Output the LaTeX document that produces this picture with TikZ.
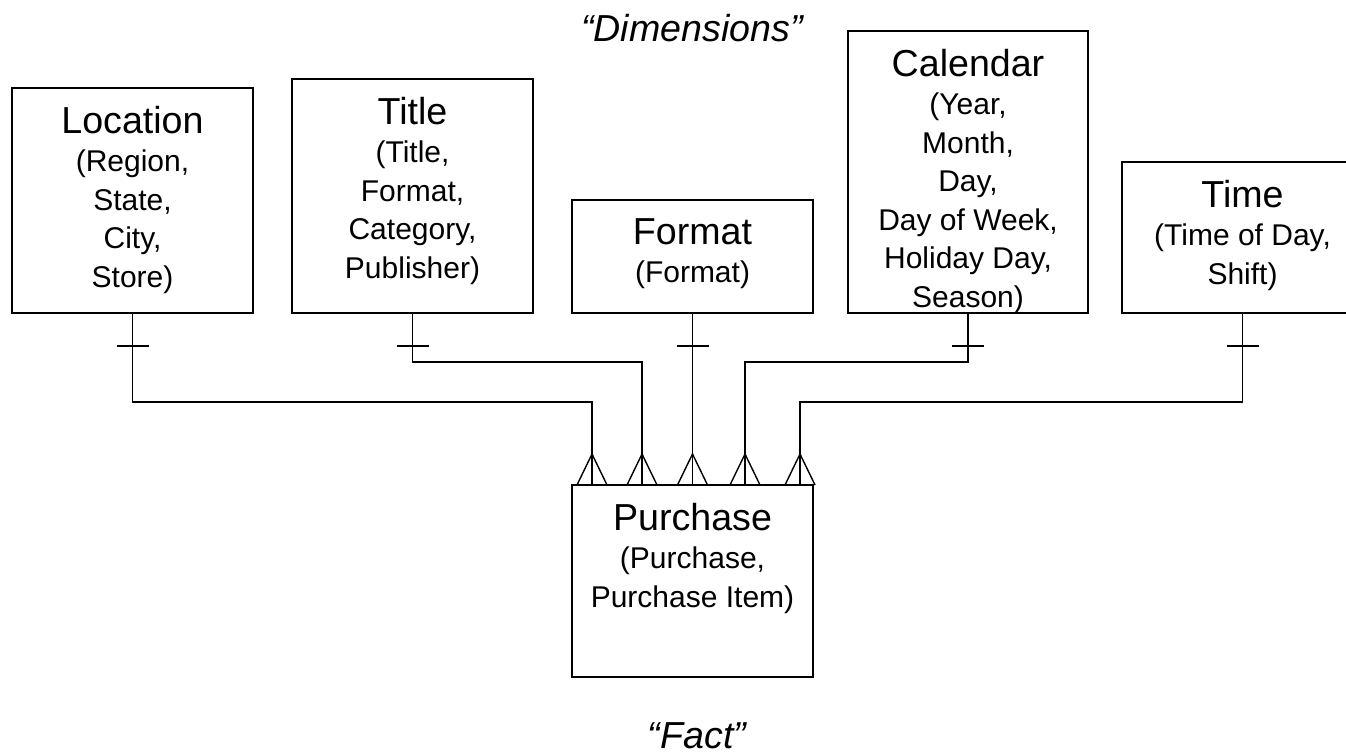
\documentclass[tikz,border=0pt]{standalone}
\usepackage{fontspec}
\setmainfont{Liberation Sans}
\begin{document}
\begin{tikzpicture}[x=1pt,y=-1pt,
  box/.style={draw, line width=1.4pt, inner sep=0pt, outer sep=0pt, anchor=north west},
  txt/.style={anchor=north, align=center, inner sep=0pt, font=\fontsize{30}{38.5}\selectfont},
  conn/.style={line width=1.4pt},
  lbl/.style={anchor=base, inner sep=0pt, font=\fontsize{37.6}{40}\selectfont\itshape}]
\newcommand{\ttl}[1]{{\fontsize{37.6}{38.5}\selectfont #1}}
\useasboundingbox (0,0) rectangle (1346,754);
% boxes
\node[box, minimum width=241pt, minimum height=225pt] (loc) at (12,88) {};
\node[box, minimum width=241pt, minimum height=234pt] (tit) at (292,79) {};
\node[box, minimum width=241pt, minimum height=113pt] (fmt) at (572,200) {};
\node[box, minimum width=240pt, minimum height=282pt] (cal) at (848,31) {};
\node[box, minimum width=241pt, minimum height=151pt] (tim) at (1122,162) {};
\node[box, minimum width=241pt, minimum height=192pt] (pur) at (572,485) {};
% texts
\node[txt] (loct) at ([yshift=-18pt]loc.north) {\ttl{Location}\\(Region,\\State,\\City,\\Store)};
\node[txt] (titt) at ([yshift=-18pt]tit.north) {\ttl{Title}\\(Title,\\Format,\\Category,\\Publisher)};
\node[txt] (fmtt) at ([yshift=-18pt]fmt.north) {\ttl{Format}\\(Format)};
\node[txt] (calt) at ([yshift=-18pt]cal.north) {\ttl{Calendar}\\(Year,\\Month,\\Day,\\Day of Week,\\Holiday Day,\\Season)};
\node[txt] (timt) at ([yshift=-18pt]tim.north) {\ttl{Time}\\(Time of Day,\\Shift)};
\node[txt] (purt) at ([yshift=-18pt]pur.north) {\ttl{Purchase}\\(Purchase,\\Purchase Item)};
% labels
\node[lbl] (dim) at (692,42) {“Dimensions”};
\node[lbl] (fact) at (697,748) {“Fact”};
% attachment points on fact box
\coordinate (f1) at (592,485);
\coordinate (f2) at (642,485);
\coordinate (f3) at (692.5,485);
\coordinate (f4) at (745,485);
\coordinate (f5) at (800,485);
% connectors
\draw[conn] (loc.south) -- ++(0,89) -| (f1);
\draw[conn] (tit.south) -- ++(0,49) -| (f2);
\draw[conn] (fmt.south) -- (f3);
\draw[conn] (cal.south) -- ++(0,49) -| (f4);
\draw[conn] (tim.south) -- ++(0,89) -| (f5);
% one-marks
\foreach \n in {loc,tit,fmt,cal,tim}
  \draw[conn] (\n.south) ++(-16,33) -- ++(32,0);
% crow's feet
\foreach \n in {f1,f2,f3,f4,f5}
  \draw[conn] (\n) ++(-15,0) -- ++(15,-31) -- ++(15,31);
\end{tikzpicture}
\end{document}
